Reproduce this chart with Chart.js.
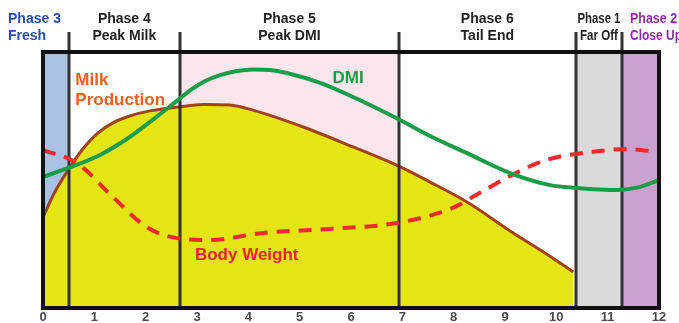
<!DOCTYPE html>
<html>
<head>
<meta charset="utf-8">
<script src="https://cdn.jsdelivr.net/npm/chart.js@4.4.1/dist/chart.umd.min.js"></script>
<style>
  html,body{margin:0;padding:0;background:#fff;}
  #wrap{width:679px;height:323px;position:relative;}
</style>
</head>
<body>
<div id="wrap"><canvas id="c" width="679" height="323"></canvas></div>
<script>
// Months since calving
const xTicks = [0,1,2,3,4,5,6,7,8,9,10,11,12];

// Milk production curve (relative units)
const milkX = [0, 0.23, 0.49, 0.76, 1.05, 1.36, 1.69, 2.08, 2.63, 3.12, 3.64, 4.09, 5.07, 6.04, 6.92, 7.54, 8.26, 9.16, 9.78, 10.33];
const milkY = [35.5, 45.3, 53.9, 61.7, 68.0, 72.3, 75.0, 77.0, 78.5, 79.5, 79.3, 77.3, 70.7, 62.9, 55.5, 49.2, 41.4, 29.3, 21.5, 14.1];

// Dry matter intake curve
const dmiX = [0, 0.49, 1.11, 1.69, 2.18, 2.63, 2.9, 3.16, 3.45, 3.78, 4.09, 4.42, 4.75, 5.4, 6.04, 6.92, 7.54, 8.26, 9.1, 9.88, 10.4, 11.18, 11.63, 12];
const dmiY = [51.2, 54.7, 59.8, 66.8, 74.2, 81.3, 85.5, 88.7, 91.0, 92.6, 93.2, 93.0, 91.8, 87.9, 82.4, 73.8, 67.2, 60.5, 52.7, 48.0, 46.9, 46.1, 47.3, 50.0];

// Body weight curve
const bwX = [0, 0.66, 1.36, 2.02, 2.61, 3.25, 4.28, 5.58, 6.89, 7.98, 8.5, 9.14, 9.8, 10.83, 11.36, 12];
const bwY = [61.7, 56.6, 43.4, 31.6, 27.3, 26.6, 29.3, 30.9, 33.2, 39.1, 44.9, 52.0, 57.8, 61.3, 62.1, 60.9];

// Phase boundaries (months) and labels
const phaseBounds = [0, 0.5, 2.67, 6.93, 10.38, 11.28, 12];
const phaseTitles = ["Phase 3", "Phase 4", "Phase 5", "Phase 6", "Phase 1", "Phase 2"];
const phaseNames  = ["Fresh", "Peak Milk", "Peak DMI", "Tail End", "Far Off", "Close Up"];
const phaseFills  = ["#a9c1e3", null, "#fce5eb", null, "#d9d9d9", "#cba1cf"];
const phaseText   = ["#2a4e9e", "#222222", "#222222", "#222222", "#222222", "#8a2c9e"];

const pts = (xs, ys) => xs.map((x, i) => ({x: x, y: ys[i]}));

const FONT = "'Liberation Sans', Arial, sans-serif";

const decor = {
  id: 'decor',
  beforeDatasetsDraw(chart) {
    const {ctx, chartArea: a, scales: {x}} = chart;
    ctx.save();
    for (let i = 0; i < phaseFills.length; i++) {
      if (!phaseFills[i]) continue;
      const x0 = x.getPixelForValue(phaseBounds[i]);
      const x1 = x.getPixelForValue(phaseBounds[i + 1]);
      ctx.fillStyle = phaseFills[i];
      ctx.fillRect(x0, a.top, x1 - x0, a.bottom - a.top);
    }
    ctx.restore();
  },
  afterDatasetDraw(chart, args) {
    if (args.index !== 2) return;
    const {ctx, chartArea: a, scales: {x}} = chart;
    ctx.save();
    ctx.strokeStyle = '#333';
    ctx.lineWidth = 3;
    for (let i = 1; i < phaseBounds.length - 1; i++) {
      const px = Math.round(x.getPixelForValue(phaseBounds[i]));
      ctx.beginPath();
      ctx.moveTo(px, a.top - 20);
      ctx.lineTo(px, a.bottom);
      ctx.stroke();
    }
    ctx.restore();
  },
  afterDraw(chart) {
    const {ctx, chartArea: a, scales: {x}} = chart;
    ctx.save();
    // frame
    ctx.strokeStyle = '#111';
    ctx.lineWidth = 4;
    ctx.strokeRect(a.left, a.top, a.right - a.left, a.bottom - a.top);

    // phase labels
    ctx.font = "bold 14px " + FONT;
    ctx.textBaseline = 'alphabetic';
    for (let i = 0; i < phaseTitles.length; i++) {
      ctx.fillStyle = phaseText[i];
      const x0 = x.getPixelForValue(phaseBounds[i]);
      const x1 = x.getPixelForValue(phaseBounds[i + 1]);
      if (i === 0) {
        ctx.textAlign = 'left';
        ctx.fillText(phaseTitles[i], 8, 23);
        ctx.fillText(phaseNames[i], 8, 40);
      } else if (i === phaseTitles.length - 1) {
        ctx.textAlign = 'left';
        ctx.fillText(phaseTitles[i], x0 + 8, 23, 47);
        ctx.fillText(phaseNames[i], x0 + 8, 40, 52);
      } else if (i === 4) {
        ctx.textAlign = 'center';
        const cx = (x0 + x1) / 2;
        ctx.fillText(phaseTitles[i], cx, 23, 43);
        ctx.fillText(phaseNames[i], cx, 40, 38);
      } else {
        ctx.textAlign = 'center';
        const cx = (x0 + x1) / 2;
        ctx.fillText(phaseTitles[i], cx, 23);
        ctx.fillText(phaseNames[i], cx, 40);
      }
    }

    // curve labels
    ctx.font = "bold 17px " + FONT;
    ctx.textAlign = 'left';
    ctx.fillStyle = '#e8621e';
    ctx.fillText('Milk', x.getPixelForValue(0.63), 85);
    ctx.fillText('Production', x.getPixelForValue(0.63), 105);
    ctx.fillStyle = '#1b9c48';
    ctx.fillText('DMI', x.getPixelForValue(5.64), 83);
    ctx.fillStyle = '#e8262a';
    ctx.fillText('Body Weight', x.getPixelForValue(2.96), 260);
    ctx.restore();
  }
};

new Chart(document.getElementById('c'), {
  type: 'line',
  data: {
    datasets: [
      {
        label: 'DMI',
        data: pts(dmiX, dmiY),
        borderColor: '#1b9c48',
        borderWidth: 4,
        pointRadius: 0,
        cubicInterpolationMode: 'monotone',
        fill: false
      },
      {
        label: 'Body Weight',
        data: pts(bwX, bwY),
        borderColor: '#ee2a2a',
        borderWidth: 4,
        borderDash: [13, 9],
        pointRadius: 0,
        cubicInterpolationMode: 'monotone',
        fill: false
      },
      {
        label: 'Milk Production',
        data: pts(milkX, milkY),
        borderColor: '#a0421c',
        backgroundColor: '#e6e514',
        borderWidth: 3,
        pointRadius: 0,
        cubicInterpolationMode: 'monotone',
        fill: 'origin'
      }
    ]
  },
  options: {
    responsive: false,
    animation: false,
    layout: {padding: {left: 43, right: 20, top: 52, bottom: 0}},
    plugins: {legend: {display: false}, tooltip: {enabled: false}},
    scales: {
      x: {
        type: 'linear',
        min: 0, max: 12,
        grid: {display: false, drawTicks: false, tickLength: 0},
        border: {display: false},
        afterFit(s) { s.height = 15; },
        afterBuildTicks(s) { s.ticks = xTicks.map(v => ({value: v})); },
        ticks: {
          padding: 2,
          color: '#4a4a4a',
          font: {family: "'Liberation Sans Narrow', 'Liberation Sans', Arial, sans-serif", size: 13, weight: 'bold'}
        }
      },
      y: {
        display: false,
        min: 0, max: 100
      }
    }
  },
  plugins: [decor]
});
</script>
</body>
</html>
